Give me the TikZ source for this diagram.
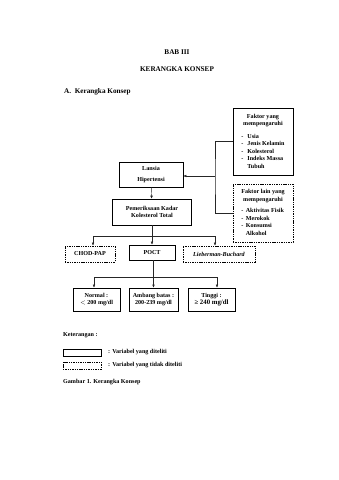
\documentclass[tikz,border=0pt]{standalone}
\usepackage{fontspec}
\setmainfont{Liberation Serif}
\usetikzlibrary{arrows.meta}
\newcommand\fsbox{\fontsize{6.1}{7.5}\selectfont\bfseries}
\newcommand\fshead{\fontsize{7.2}{8}\selectfont\bfseries}
\tikzset{
  boxbase/.style={inner sep=0pt, align=center, font=\fsbox, anchor=center},
  solidbox/.style={boxbase, draw, line width=0.7pt},
  dashbox/.style={boxbase, draw, line width=0.6pt, dash pattern=on 1.4pt off 0.9pt},
  conn/.style={line width=0.45pt, draw=black!85},
  arr/.style={conn, -{Latex[length=3pt,width=2.6pt]}},
  txt/.style={inner sep=0pt, font=\fshead},
  ltxt/.style={inner sep=0pt, font=\fsbox, anchor=west},
}
\begin{document}
\begin{tikzpicture}[x=1pt,y=-1pt]
\useasboundingbox (0,0) rectangle (339,480);
\fill[white] (0,0) rectangle (339,480);

% headings
\node[txt] (bab) at (177,52) {BAB III};
\node[txt] (kk) at (177,69) {KERANGKA KONSEP};
\node[txt, anchor=west] (sub) at (64,92) {A.\ \ Kerangka Konsep};

% factor boxes
\node[solidbox, minimum width=60pt, minimum height=67pt] (f1) at (263,141.5)
  {\begin{tabular}{@{}l@{\hspace{4pt}}l@{}}
   \multicolumn{2}{@{}c@{}}{Faktor yang}\\
   \multicolumn{2}{@{}c@{}}{mempengaruhi}\\[5pt]
   - & Usia\\
   - & Jenis Kelamin\\
   - & Kolesterol\\
   - & Indeks Massa\\
     & Tubuh
   \end{tabular}};
\node[dashbox, minimum width=60pt, minimum height=58pt] (f2) at (263,213)
  {\begin{tabular}{@{}l@{\hspace{2.5pt}}l@{}}
   \multicolumn{2}{@{}c@{}}{Faktor lain yang}\\
   \multicolumn{2}{@{}c@{}}{mempengaruhi}\\[4pt]
   - & Aktivitas Fisik\\
   - & Merokok\\
   - & Konsumsi\\
     & Alkohol
   \end{tabular}};

% main chain
\node[solidbox, minimum width=64pt, minimum height=25pt, font=\fontsize{6.1}{11.5}\selectfont\bfseries] (lansia) at (151,174.5) {Lansia\\Hipertensi};
\node[solidbox, minimum width=79pt, minimum height=26pt] (pem) at (152,212) {Pemeriksaan Kadar\\Kolesterol Total};

\node[dashbox, minimum width=50pt, minimum height=16pt] (chod) at (90,254) {CHOD-PAP};
\node[solidbox, minimum width=46pt, minimum height=15pt] (poct) at (152,252.5) {POCT};
\node[dashbox, minimum width=72pt, minimum height=16pt] (lieb) at (219,254) {\itshape Lieberman-Buchard};

\node[solidbox, minimum width=47pt, minimum height=23pt] (normal) at (96.5,299.5) {Normal :\\$<$ 200 mg/dl};
\node[solidbox, minimum width=49pt, minimum height=23pt] (ambang) at (153.5,299.5) {Ambang batas :\\200-239 mg/dl};
\node[solidbox, minimum width=47pt, minimum height=23pt] (tinggi) at (211.5,299.5) {Tinggi :\\{\fontsize{6.8}{7.5}\selectfont ≥ 240 mg/dl}};

% right connector
\coordinate (bus) at (215,176);
\draw[conn] (f1.west) -| (bus) |- (f2.west);
\draw[arr] (bus) -- (bus -| lansia.east);
\draw[arr] (lansia) -- (pem);

% first branching
\coordinate (bl) at (93,236);
\coordinate (br) at (215,236);
\draw[arr] (pem) -- (poct);
\draw[conn] (bl) -- (br);
\draw[arr] (bl) -- (bl |- chod.north);
\draw[arr] (br) -- (br |- lieb.north);

% second branching
\coordinate (cl) at (94,277);
\coordinate (cr) at (217,277);
\draw[arr] (poct.south -| ambang.north) -- (ambang.north);
\draw[conn] (cl) -- (cr);
\draw[arr] (cl) -- (cl |- normal.north);
\draw[arr] (cr) -- (cr |- tinggi.north);

% legend
\node[ltxt] (ket) at (63,335) {Keterangan :};
\node[solidbox, minimum width=38pt, minimum height=7pt] (lg1) at (82,352.5) {};
\node[dashbox, minimum width=38pt, minimum height=7pt] (lg2) at (82,365.5) {};
\node[ltxt] (lt1) at (108,352.5) {: Variabel yang diteliti};
\node[ltxt] (lt2) at (108,365.5) {: Variabel yang tidak diteliti};
\node[ltxt] (gam) at (63,382) {Gambar 1. Kerangka Konsep};
\end{tikzpicture}
\end{document}
